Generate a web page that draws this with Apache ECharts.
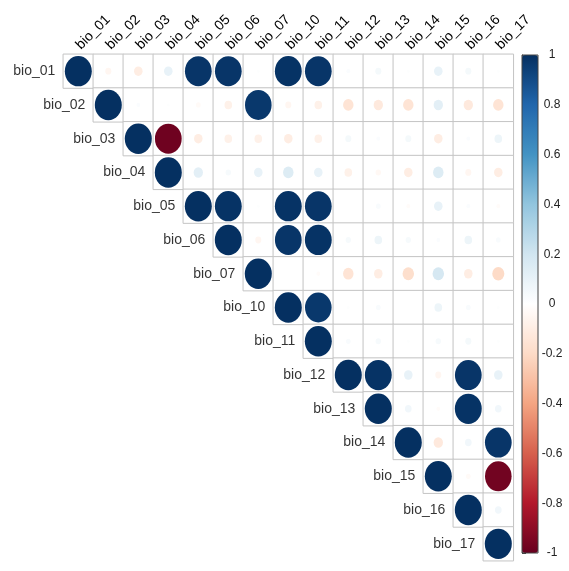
<!DOCTYPE html>
<html style="height: 100%">
<head>
<meta charset="utf-8">
<script src="https://cdn.jsdelivr.net/npm/echarts@6/dist/echarts.min.js"></script>
</head>
<body style="height: 100%; margin: 0; background: #fff">
<div id="container" style="width: 569px; height: 571px"></div>
<script>
// variable names (rows = cols)
var labels = ['bio_01', 'bio_02', 'bio_03', 'bio_04', 'bio_05', 'bio_06', 'bio_07',
              'bio_10', 'bio_11', 'bio_12', 'bio_13', 'bio_14', 'bio_15', 'bio_16', 'bio_17'];

// upper triangle, each row starts at the diagonal
var row01 = [1, -0.05, -0.1, 0.1, 0.98, 0.98, 0.01, 0.99, 0.98, 0.02, 0.05, 0.01, 0.1, 0.05, 0.01];
var row02 = [1, 0.02, 0.01, -0.03, -0.08, 0.97, -0.05, -0.08, -0.15, -0.12, -0.15, 0.12, -0.12, -0.15];
var row03 = [1, -0.98, -0.1, -0.08, -0.08, -0.1, -0.08, 0.05, 0.02, 0.05, -0.1, 0.02, 0.08];
var row04 = [1, 0.12, 0.04, 0.1, 0.15, 0.1, -0.08, -0.04, -0.1, 0.15, -0.05, -0.1];
var row05 = [1, 0.99, 0.01, 0.99, 0.98, 0.0, 0.03, -0.02, 0.1, 0.02, -0.02];
var row06 = [1, -0.05, 0.98, 0.99, 0.04, 0.08, 0.04, 0.02, 0.08, 0.03];
var row07 = [1, 0.0, -0.02, -0.15, -0.1, -0.18, 0.18, -0.1, -0.2];
var row10 = [1, 0.97, 0.01, 0.03, 0.0, 0.08, 0.03, 0.01];
var row11 = [1, 0.03, 0.04, 0.01, 0.04, 0.05, 0.01];
var row12 = [1, 0.99, 0.1, -0.05, 0.98, 0.1];
var row13 = [1, 0.06, -0.02, 0.99, 0.06];
var row14 = [1, -0.12, 0.06, 0.98];
var row15 = [1, -0.03, -0.97];
var row16 = [1, 0.06];
var row17 = [1];
var rows = [row01, row02, row03, row04, row05, row06, row07, row10, row11, row12, row13, row14, row15, row16, row17];

var barTicks = [-1, -0.8, -0.6, -0.4, -0.2, 0, 0.2, 0.4, 0.6, 0.8, 1];
var rdbu = ['#67001F', '#B2182B', '#D6604D', '#F4A582', '#FDDBC7', '#FFFFFF',
            '#D1E5F0', '#92C5DE', '#4393C3', '#2166AC', '#053061'];

var gridW = 450, gridH = 506.4;
var cellW = gridW / labels.length, cellH = gridH / labels.length;

var cells = [], circles = [], diag = [];
rows.forEach(function (r, i) {
    r.forEach(function (v, k) {
        var j = i + k;
        cells.push([j, i, v]);
        circles.push([j, i, v]);
    });
    diag.push([i, i, labels[i]]);
});

var font = 'Liberation Sans, Arial, sans-serif';
var dom = document.getElementById('container');
var myChart = echarts.init(dom);

var option = {
    animation: false,
    backgroundColor: '#fff',
    grid: [
        {left: 63.3, top: 54.3, width: gridW, height: gridH},
        {left: 522, top: 55, width: 16, height: 498, show: true, z: 10,
         backgroundColor: 'transparent', borderColor: '#444', borderWidth: 1}
    ],
    xAxis: [
        {
            type: 'category', data: labels, position: 'top', gridIndex: 0,
            axisLine: {show: false}, axisTick: {show: false}, splitLine: {show: false},
            axisLabel: {rotate: -45, margin: 7, fontSize: 14, color: '#000', fontFamily: font, interval: 0}
        },
        {type: 'value', gridIndex: 1, show: false}
    ],
    yAxis: [
        {
            type: 'category', data: labels, inverse: true, gridIndex: 0,
            axisLine: {show: false}, axisTick: {show: false}, axisLabel: {show: false},
            splitLine: {show: false}
        },
        {
            type: 'value', gridIndex: 1, position: 'right', min: -1, max: 1, interval: 0.2,
            axisLine: {show: true, lineStyle: {color: '#444'}},
            axisTick: {show: true, length: 4, lineStyle: {color: '#444'}},
            splitLine: {show: false},
            axisLabel: {margin: 14, align: 'center', padding: [4, 0, 0, 0],
                        fontSize: 12, color: '#222', fontFamily: font,
                        formatter: function (v) {
                            var t = barTicks.reduce(function (a, b) { return Math.abs(b - v) < Math.abs(a - v) ? b : a; });
                            return String(t);
                        }}
        }
    ],
    visualMap: {
        type: 'continuous', min: -1, max: 1, dimension: 2, seriesIndex: 1,
        calculable: false, left: 522, top: 55, itemWidth: 16, itemHeight: 498,
        padding: 0, text: null, inRange: {color: rdbu}
    },
    series: [
        {
            type: 'heatmap', data: cells, xAxisIndex: 0, yAxisIndex: 0,
            itemStyle: {color: '#fff', borderColor: '#c4c4c4', borderWidth: 1},
            emphasis: {disabled: true}
        },
        {
            type: 'scatter', data: circles, xAxisIndex: 0, yAxisIndex: 0, symbol: 'circle',
            symbolSize: function (d) {
                var s = Math.sqrt(Math.abs(d[2])) * 0.9;
                return [cellW * s, cellH * s];
            },
            itemStyle: {opacity: 1},
            z: 3
        },
        {
            type: 'scatter', data: diag, xAxisIndex: 0, yAxisIndex: 0, symbolSize: 1,
            itemStyle: {color: 'rgba(0,0,0,0)'},
            label: {show: true, position: 'left', distance: 22.5, fontSize: 14, color: '#000',
                    fontFamily: font, formatter: function (p) { return p.data[2]; }}
        }
    ]
};
myChart.setOption(option);
</script>
</body>
</html>
